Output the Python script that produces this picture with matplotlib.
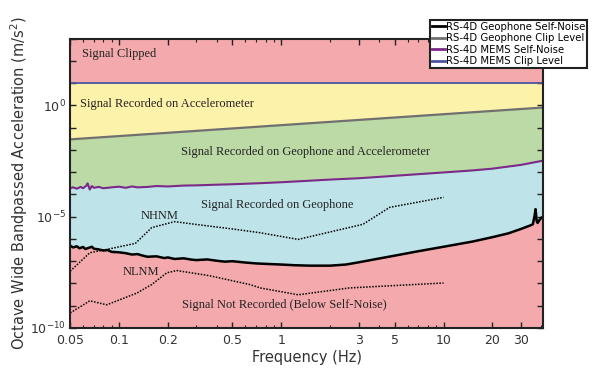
import numpy as np
import matplotlib
matplotlib.use("Agg")
import matplotlib.pyplot as plt
from matplotlib.ticker import LogLocator, NullFormatter
from matplotlib.lines import Line2D

# RS-4D geophone self-noise (log10 m/s^2)
geo_noise_freq = [0.05, 0.052, 0.055, 0.057, 0.06, 0.062, 0.065, 0.068, 0.07, 0.075,
                  0.08, 0.085, 0.09, 0.1, 0.11, 0.12, 0.13, 0.14, 0.15, 0.17,
                  0.19, 0.2, 0.22, 0.25, 0.28, 0.3, 0.35, 0.4, 0.45, 0.5,
                  0.6, 0.7, 0.8, 1.0, 1.2, 1.5, 2.0, 2.5, 3.0, 4.0,
                  5.0, 7.0, 10, 15, 20, 25, 30, 34, 35.5, 36.3,
                  36.9, 37.5, 38, 39, 40, 41]
geo_noise_log = [-6.30, -6.38, -6.33, -6.42, -6.36, -6.45, -6.40, -6.35, -6.44, -6.47,
                 -6.52, -6.50, -6.58, -6.60, -6.64, -6.70, -6.68, -6.75, -6.80, -6.78,
                 -6.86, -6.83, -6.90, -6.87, -6.93, -6.95, -6.92, -6.98, -7.02, -7.00,
                 -7.06, -7.10, -7.12, -7.15, -7.18, -7.20, -7.20, -7.15, -7.05, -6.88,
                 -6.75, -6.55, -6.35, -6.12, -5.92, -5.75, -5.55, -5.40, -5.34, -5.00,
                 -4.66, -5.20, -5.28, -5.15, -5.05, -5.00]

# RS-4D MEMS self-noise (log10 m/s^2)
mems_noise_freq = [0.05, 0.052, 0.055, 0.058, 0.06, 0.063, 0.064, 0.066, 0.068, 0.07,
                   0.075, 0.08, 0.09, 0.1, 0.11, 0.12, 0.13, 0.15, 0.17, 0.2,
                   0.25, 0.3, 0.4, 0.5, 0.7, 1.0, 1.5, 2, 3, 4,
                   6, 10, 15, 20, 30, 41]
mems_noise_log = [-3.72, -3.68, -3.74, -3.66, -3.72, -3.60, -3.50, -3.78, -3.62, -3.70,
                  -3.66, -3.72, -3.68, -3.65, -3.70, -3.64, -3.68, -3.66, -3.62, -3.64,
                  -3.60, -3.59, -3.56, -3.54, -3.50, -3.45, -3.38, -3.33, -3.27, -3.21,
                  -3.12, -3.01, -2.92, -2.84, -2.67, -2.48]

# clip levels (m/s^2)
geo_clip_freq = [0.05, 41]
geo_clip = [0.03, 0.81]
mems_clip_freq = [0.05, 41]
mems_clip = [10.0, 10.0]

# Peterson noise models (log10)
nhnm_freq = [0.05, 0.066, 0.084, 0.126, 0.159, 0.22, 0.3, 0.5, 0.74, 1.27, 3.19, 4.65, 10]
nhnm_log = [-7.45, -6.62, -6.47, -6.20, -5.49, -5.22, -5.35, -5.55, -5.72, -6.02, -5.34, -4.58, -4.13]
nlnm_freq = [0.05, 0.066, 0.084, 0.129, 0.159, 0.197, 0.227, 0.36, 0.64, 0.74, 1.27, 2.64, 10]
nlnm_log = [-9.33, -8.78, -8.96, -8.43, -8.05, -7.52, -7.42, -7.65, -8.05, -8.2, -8.51, -8.2, -7.98]

x_ticks = [0.05, 0.1, 0.2, 0.5, 1, 3, 5, 10, 20, 30]
x_ticklabels = ["0.05", "0.1", "0.2", "0.5", "1", "3", "5", "10", "20", "30"]

PINK = "#f4aaac"
YELLOW = "#fdf2a9"
GREEN = "#bcdaa5"
BLUE = "#bee4ea"

fig = plt.figure(figsize=(6, 3.8), dpi=100)
ax = fig.add_axes([0.117, 0.137, 0.788, 0.761])
ax.set_xscale("log")
ax.set_yscale("log")
ax.set_facecolor(PINK)

low = 1e-12
ax.fill_between(mems_clip_freq, low, mems_clip, color=YELLOW, lw=0)
ax.fill_between(geo_clip_freq, low, geo_clip, color=GREEN, lw=0)
mems_noise = 10.0 ** np.array(mems_noise_log)
geo_noise = 10.0 ** np.array(geo_noise_log)
ax.fill_between(mems_noise_freq, low, mems_noise, color=BLUE, lw=0)
ax.fill_between(geo_noise_freq, low, geo_noise, color=PINK, lw=0)

ax.plot(mems_clip_freq, mems_clip, color="#4b56a0", lw=1.3)
ax.plot(geo_clip_freq, geo_clip, color="#707070", lw=1.6)
ax.plot(mems_noise_freq, mems_noise, color="#7b2a88", lw=1.5)
ax.plot(geo_noise_freq, geo_noise, color="black", lw=1.8)
ax.plot(nhnm_freq, 10.0 ** np.array(nhnm_log), color="black", lw=1.1, ls=(0, (1, 1)))
ax.plot(nlnm_freq, 10.0 ** np.array(nlnm_log), color="black", lw=1.1, ls=(0, (1, 1)))

ax.set_xlim(0.05, 41)
ax.set_ylim(1e-10, 1e3)

ax.set_xticks(x_ticks)
ax.set_xticklabels(x_ticklabels)
ax.xaxis.set_minor_locator(LogLocator(subs=np.arange(2, 10), numticks=20))
ax.xaxis.set_minor_formatter(NullFormatter())
yt = [10.0 ** k for k in range(-10, 4)]
ax.set_yticks(yt)
ax.set_yticklabels([r"$10^{%d}$" % k if k in (-10, -5, 0) else "" for k in range(-10, 4)])
ax.yaxis.set_minor_locator(plt.NullLocator())
ax.tick_params(which="both", direction="in", top=True, right=True, colors="#222222",
               labelcolor="#333333", labelsize=9)
ax.tick_params(axis="x", which="major", pad=4.5)
ax.tick_params(axis="y", which="major", pad=3)
ax.tick_params(which="major", length=4, width=1)
ax.tick_params(which="minor", length=2, width=0.8)
for s in ax.spines.values():
    s.set_linewidth(1.5)
    s.set_color("#222222")

ax.set_xlabel("Frequency (Hz)", fontsize=10.5, color="#333333", labelpad=2)
ax.set_ylabel("Octave Wide Bandpassed Acceleration (m/s$^2$)", fontsize=10.5, color="#333333", labelpad=0)

serif = dict(family="Liberation Serif", fontsize=8.9, color="#222222")
ax.text(0.025, 0.948, "Signal Clipped", transform=ax.transAxes, ha="left", va="center", **serif)
ax.text(0.021, 0.775, "Signal Recorded on Accelerometer", transform=ax.transAxes, ha="left", va="center", **serif)
ax.text(0.497, 0.609, "Signal Recorded on Geophone and Accelerometer", transform=ax.transAxes, ha="center", va="center", **serif)
ax.text(0.438, 0.426, "Signal Recorded on Geophone", transform=ax.transAxes, ha="center", va="center", **serif)
ax.text(0.19, 0.388, "NHNM", transform=ax.transAxes, ha="center", va="center", **serif)
ax.text(0.15, 0.194, "NLNM", transform=ax.transAxes, ha="center", va="center", **serif)
ax.text(0.452, 0.08, "Signal Not Recorded (Below Self-Noise)", transform=ax.transAxes, ha="center", va="center", **serif)

handles = [Line2D([], [], color="black", lw=2),
           Line2D([], [], color="#707070", lw=2),
           Line2D([], [], color="#7b2a88", lw=2),
           Line2D([], [], color="#4b56a0", lw=2)]
labels = ["RS-4D Geophone Self-Noise", "RS-4D Geophone Clip Level",
          "RS-4D MEMS Self-Noise", "RS-4D MEMS Clip Level"]
leg = fig.legend(handles, labels, loc="upper right", bbox_to_anchor=(0.978, 0.947),
                 bbox_transform=fig.transFigure, fontsize=7.3, handlelength=1.3,
                 handletextpad=0.1, borderpad=0.15, labelspacing=0.15,
                 borderaxespad=0, fancybox=False, framealpha=1)
leg.get_frame().set_edgecolor("#222222")
leg.get_frame().set_linewidth(1.5)

fig.savefig("out.png", dpi=100)
